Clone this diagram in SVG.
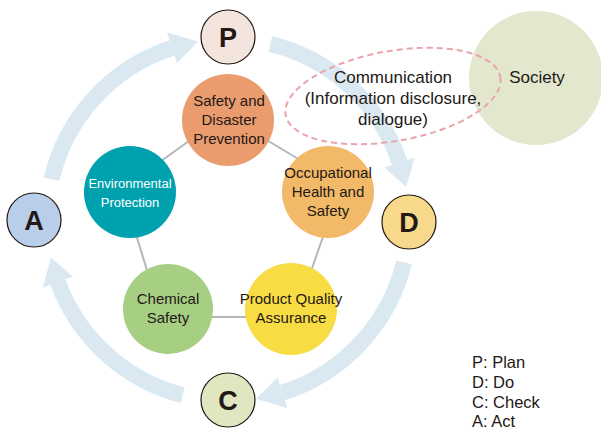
<svg xmlns="http://www.w3.org/2000/svg" width="601" height="431" viewBox="0 0 601 431">
<style>
text{font-family:"Liberation Sans",Arial,sans-serif;fill:#231815;text-anchor:middle}
.band{fill:none;stroke:#DAE8F2;stroke-width:16}
.head{fill:#DAE8F2}
.link{stroke:#B4B7BA;stroke-width:2}
.pdca{stroke:#231815;stroke-width:1.2}
.pl{font-size:27px;font-weight:bold}
.n{font-size:15px}
.leg{font-size:16.5px;text-anchor:start}
</style>
<rect width="601" height="431" fill="#ffffff"/>
<g id="society"><circle cx="536" cy="78" r="67" fill="#E2E7CE"/><text x="537" y="83" style="font-size:17px">Society</text></g>
<g id="cycle-arrows">
<path class="band" d="M51.6 179.3 A181 181 0 0 1 172.1 47.9"/>
<polygon class="head" points="167.1,32.6 177,63.1 198.1,41.5"/>
<path class="band" d="M270.3 44 A181 181 0 0 1 399.6 162.6"/>
<polygon class="head" points="414.8,157.5 384.5,167.6 406,187"/>
<path class="band" d="M404 262.3 A181 181 0 0 1 282.4 392.6"/>
<polygon class="head" points="287.2,407.9 277.6,377.4 256.3,398.8"/>
<path class="band" d="M182.7 395.2 A181 181 0 0 1 57.9 281.9"/>
<polygon class="head" points="42.9,287.4 72.9,276.4 51,257.6"/>
</g>
<g id="connectors">
<line class="link" x1="150" y1="169" x2="200" y2="133"/>
<line class="link" x1="260" y1="136" x2="310" y2="166"/>
<line class="link" x1="326" y1="228" x2="309" y2="277"/>
<line class="link" x1="200" y1="317" x2="260" y2="317"/>
<line class="link" x1="134" y1="228" x2="150" y2="280"/>
</g>
<g id="safety"><circle cx="228" cy="120" r="46" fill="#EA9C6F"/>
<text class="n" x="229" y="105.5">Safety and</text><text class="n" x="229" y="124.5">Disaster</text><text class="n" x="229" y="143.5">Prevention</text></g>
<g id="environmental"><circle cx="130" cy="192" r="46" fill="#00A1AE"/>
<text x="130" y="187.5" style="font-size:13px;fill:#ffffff">Environmental</text><text x="130" y="206.5" style="font-size:13px;fill:#ffffff">Protection</text></g>
<g id="occupational"><circle cx="328" cy="192" r="46" fill="#F2B968"/>
<text class="n" x="328" y="178">Occupational</text><text class="n" x="328" y="197">Health and</text><text class="n" x="328" y="216">Safety</text></g>
<g id="chemical"><circle cx="168" cy="309" r="45" fill="#A6CF84"/>
<text class="n" x="168" y="304">Chemical</text><text class="n" x="168" y="323">Safety</text></g>
<g id="product"><circle cx="291" cy="309" r="46" fill="#F8DC44"/>
<text class="n" x="291" y="304">Product Quality</text><text class="n" x="291" y="323">Assurance</text></g>
<g id="communication">
<ellipse cx="393" cy="96" rx="109" ry="45" transform="rotate(-10 393 96)" fill="none" stroke="#E9A3AA" stroke-width="2" stroke-dasharray="6 4"/>
<text x="393" y="83" style="font-size:17px">Communication</text>
<text x="393" y="104" style="font-size:17px">(Information disclosure,</text>
<text x="393" y="125" style="font-size:17px">dialogue)</text>
</g>
<g id="P"><circle class="pdca" cx="228" cy="37" r="27" fill="#F3E4DD"/><text class="pl" x="228" y="46.5">P</text></g>
<g id="D"><circle class="pdca" cx="409" cy="222" r="27" fill="#F8D98B"/><text class="pl" x="409" y="231.5">D</text></g>
<g id="C"><circle class="pdca" cx="228" cy="400" r="27" fill="#DFE6C0"/><text class="pl" x="228" y="409.5">C</text></g>
<g id="A"><circle class="pdca" cx="34" cy="220" r="27" fill="#B9CEEA"/><text class="pl" x="34" y="229.5">A</text></g>
<g id="legend">
<text class="leg" x="472" y="367.5">P: Plan</text>
<text class="leg" x="472" y="387.5">D: Do</text>
<text class="leg" x="472" y="407.5">C: Check</text>
<text class="leg" x="472" y="427">A: Act</text>
</g>
</svg>
